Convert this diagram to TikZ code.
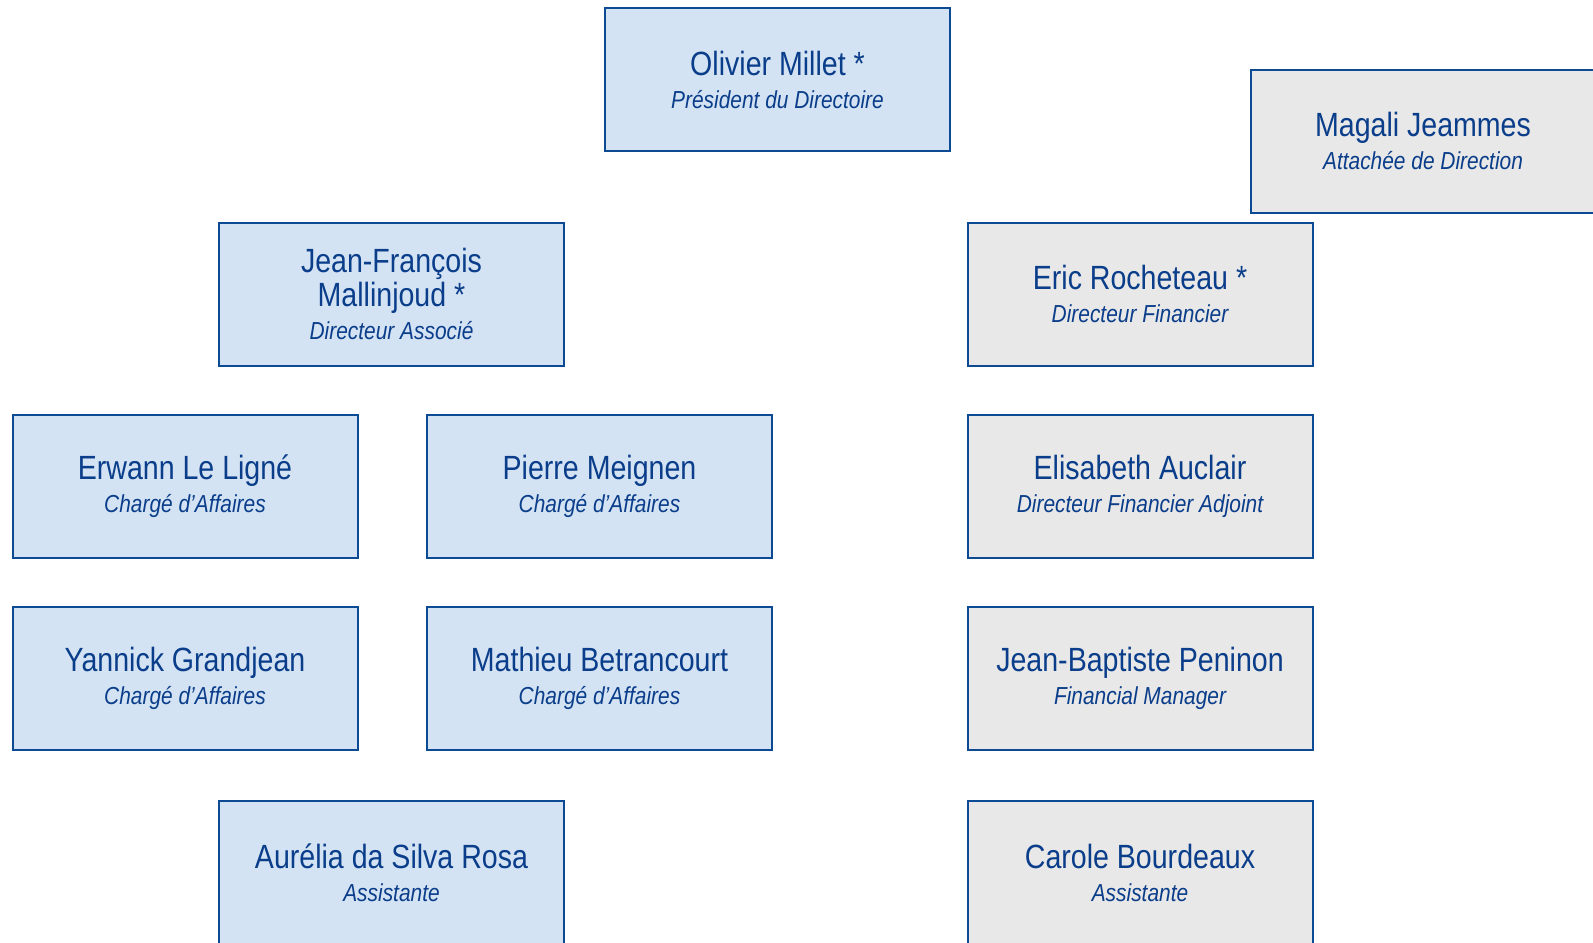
\documentclass[tikz,border=0pt]{standalone}
\usepackage{fontspec}
\setmainfont[FakeStretch=0.85]{Liberation Sans}
\usepackage{xcolor}
\usepackage{tikz}
\usetikzlibrary{positioning}

\definecolor{orgline}{HTML}{0D4A94}
\definecolor{orgtext}{HTML}{0A3D8A}
\definecolor{fillblue}{HTML}{D4E3F4}
\definecolor{fillgrey}{HTML}{E8E8E8}

% name on top, role in italics below
\newcommand{\person}[2]{#1\\[1.5pt]{\fontsize{12.3}{13}\selectfont\itshape #2}}

\begin{document}
\begin{tikzpicture}[x=0.5pt, y=-0.5pt,
    personbox/.style={draw=orgline, line width=1pt, minimum width=172.5pt,
      minimum height=71.5pt, inner sep=0pt, align=center, text=orgtext,
      font=\fontsize{16.8}{15}\selectfont},
    bluebox/.style={personbox, fill=fillblue},
    greybox/.style={personbox, fill=fillgrey}]
    \useasboundingbox (0,0) rectangle (1593,942);
    \clip (0,0) rectangle (1593,942);

    % Direction
    \node[bluebox] (millet) at (777.5,79.5) {\person{Olivier Millet *}{Président du Directoire}};
    \node[greybox] (jeammes) at (1423,141) {\person{Magali Jeammes}{Attachée de Direction}};

    % left branch
    \node[bluebox] (mallinjoud) at (391.5,294) {\person{Jean-François\\Mallinjoud *}{Directeur Associé}};
    \node[bluebox] (ligne) at (185,486) {\person{Erwann Le Ligné}{Chargé d’Affaires}};
    \node[bluebox] (meignen) at (599.5,486) {\person{Pierre Meignen}{Chargé d’Affaires}};
    \node[bluebox] (grandjean) at (185,678) {\person{Yannick Grandjean}{Chargé d’Affaires}};
    \node[bluebox] (betrancourt) at (599.5,678) {\person{Mathieu Betrancourt}{Chargé d’Affaires}};
    \node[bluebox] (silvarosa) at (391.5,872.5) {\person{Aurélia da Silva Rosa}{Assistante}};

    % right branch
    \node[greybox] (rocheteau) at (1140,294) {\person{Eric Rocheteau *}{Directeur Financier}};
    \node[greybox] (auclair) at (1140,486) {\person{Elisabeth Auclair}{Directeur Financier Adjoint}};
    \node[greybox] (peninon) at (1140,678) {\person{Jean-Baptiste Peninon}{Financial Manager}};
    \node[greybox] (bourdeaux) at (1140,872.5) {\person{Carole Bourdeaux}{Assistante}};
\end{tikzpicture}
\end{document}
